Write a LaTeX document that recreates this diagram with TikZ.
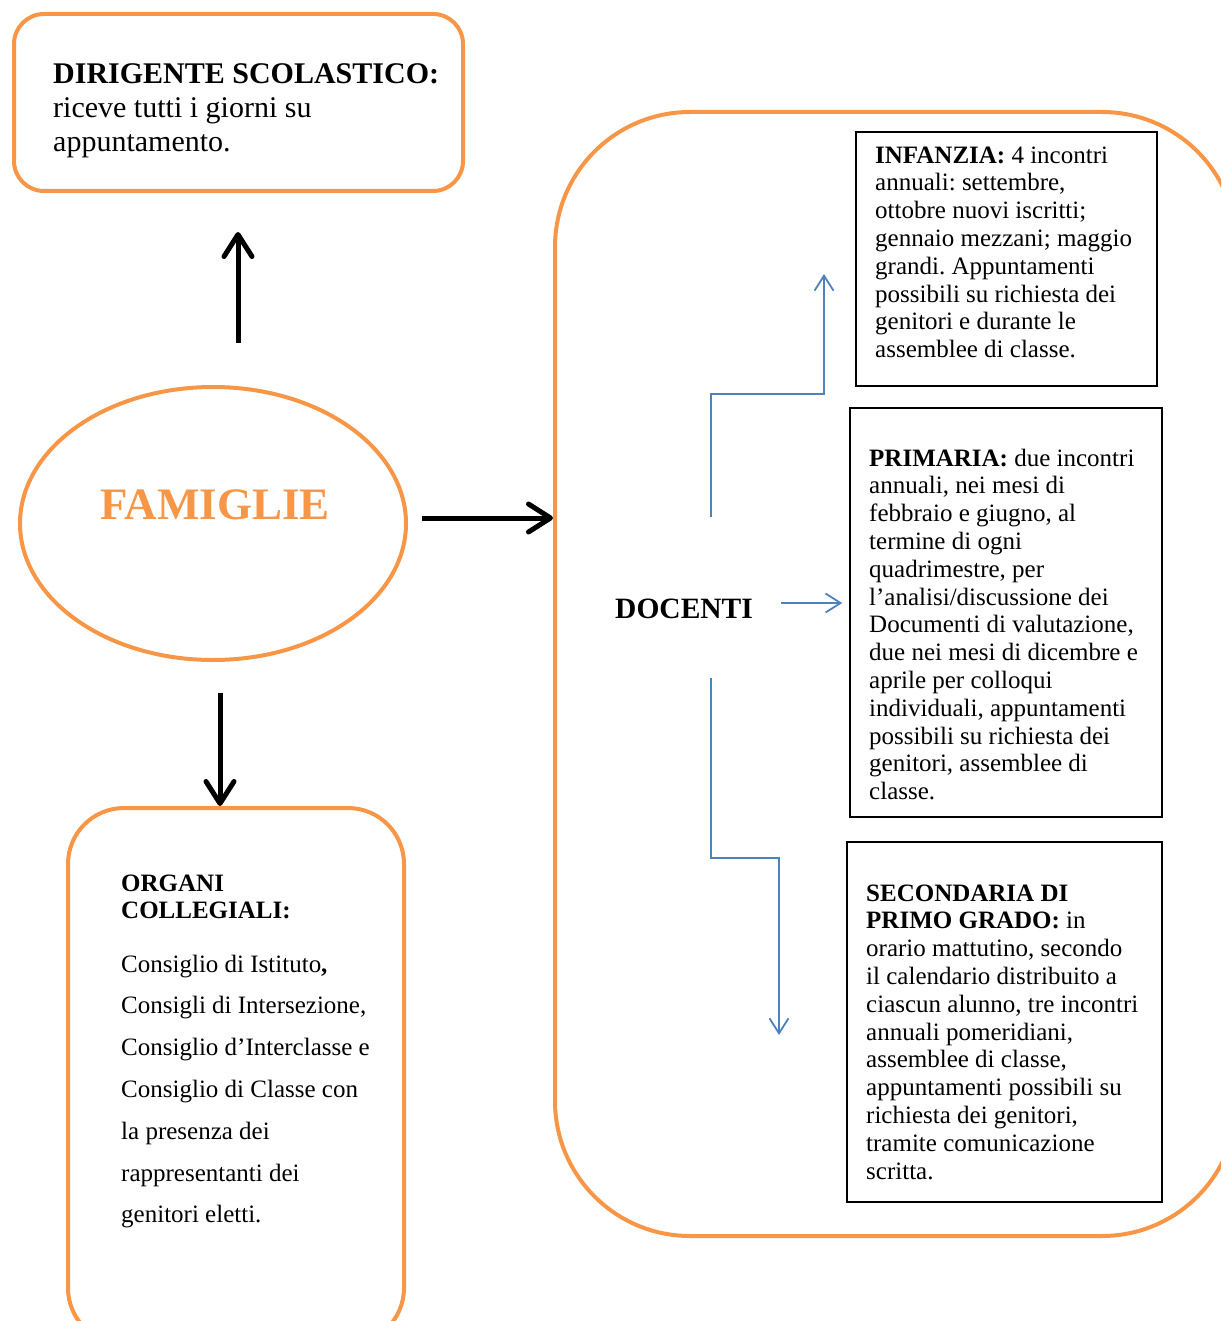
\documentclass[tikz,border=0pt]{standalone}
\usepackage{fontspec}
\setmainfont{Liberation Serif}
\usetikzlibrary{arrows.meta,shapes.geometric,calc}
\definecolor{famorange}{HTML}{F79646}
\definecolor{linkblue}{HTML}{4F81BD}
\newcommand{\txtsize}{\fontsize{25}{27.8}\selectfont}
\frenchspacing
\begin{document}
\begin{tikzpicture}[x=1pt,y=-1pt,
  orangeframe/.style={draw=famorange, line width=4pt, rectangle, inner sep=0pt},
  infobox/.style={draw=black, line width=1.5pt, rectangle, inner sep=0pt},
  bodytext/.style={anchor=north west, inner sep=0pt, align=left, font=\txtsize},
  thickarrow/.style={line width=5pt, -{Straight Barb[length=22pt,width=28pt,round]}},
  thinarrow/.style={draw=linkblue, line width=1.8pt, -{Straight Barb[length=15pt,width=19pt]}},
]
\useasboundingbox (0,0) rectangle (1221,1321);
\clip (0,0) rectangle (1221,1321);

% --- frames -------------------------------------------------------------
\node[orangeframe, rounded corners=30pt, minimum width=449pt, minimum height=177pt] (dir) at (238.5,102.5) {};
\node[orangeframe, ellipse, minimum width=386pt, minimum height=273pt] (fam) at (213,523.5) {};
\node[orangeframe, rounded corners=56pt, minimum width=336pt, minimum height=536pt] (org) at (236,1076) {};
\node[orangeframe, rounded corners=135pt, minimum width=682pt, minimum height=1124pt] (docbox) at (896,674) {};

\node[infobox, minimum width=301pt, minimum height=254pt] (inf) at (1006.5,259) {};
\node[infobox, minimum width=312pt, minimum height=409pt] (prim) at (1006,612.5) {};
\node[infobox, minimum width=315pt, minimum height=360pt] (sec) at (1004.5,1022) {};

% --- texts --------------------------------------------------------------
\node[bodytext, font=\fontsize{30}{34}\selectfont] (dirtext) at (53,59.2)
  {\strut\textbf{DIRIGENTE SCOLASTICO:}\\riceve tutti i giorni su\\appuntamento.};

\node[anchor=base, inner sep=0pt, text=famorange, font=\fontsize{45}{50}\selectfont\bfseries] (famtext) at (215,519) {FAMIGLIE};

\node[anchor=base west, inner sep=0pt, font=\fontsize{29.5}{33}\selectfont\bfseries] (doctext) at (615,618) {DOCENTI};

\node[bodytext, font=\fontsize{25}{27}\selectfont\bfseries] (orgtitle) at (121,872.1)
  {\strut ORGANI\\COLLEGIALI:};
\node[bodytext, font=\fontsize{25}{41.8}\selectfont] (orgtext) at (121,942.7)
  {\strut Consiglio di Istituto\textbf{,}\\Consigli di Intersezione,\\Consiglio d’Interclasse e\\Consiglio di Classe con\\la presenza dei\\rappresentanti dei\\genitori eletti.};

\node[bodytext] (inftext) at (875,143.5)
  {\strut\textbf{INFANZIA:} 4 incontri\\annuali: settembre,\\ottobre nuovi iscritti;\\gennaio mezzani; maggio\\grandi. Appuntamenti\\possibili su richiesta dei\\genitori e durante le\\assemblee di classe.};

\node[bodytext] (primtext) at (869,446.5)
  {\strut\textbf{PRIMARIA:} due incontri\\annuali, nei mesi di\\febbraio e giugno, al\\termine di ogni\\quadrimestre, per\\l’analisi/discussione dei\\Documenti di valutazione,\\due nei mesi di dicembre e\\aprile per colloqui\\individuali, appuntamenti\\possibili su richiesta dei\\genitori, assemblee di\\classe.};

\node[bodytext] (sectext) at (866,881.5)
  {\strut\textbf{SECONDARIA DI}\\\textbf{PRIMO GRADO:} in\\orario mattutino, secondo\\il calendario distribuito a\\ciascun alunno, tre incontri\\annuali pomeridiani,\\assemblee di classe,\\appuntamenti possibili su\\richiesta dei genitori,\\tramite comunicazione\\scritta.};

% --- black connectors from FAMIGLIE --------------------------------------
\coordinate (upfrom) at (238,343);
\coordinate (rightfrom) at (422,518);
\coordinate (downfrom) at (220,693);
\draw[thickarrow, shorten >=39pt] (upfrom) -- (upfrom |- dir.south);
\draw[thickarrow] (rightfrom) -- (rightfrom -| docbox.west);
\draw[thickarrow] (downfrom) -- (downfrom |- org.north);

% --- blue connectors from DOCENTI ----------------------------------------
\coordinate (upstart) at (711,517);
\coordinate (upbend) at (711,394);
\coordinate (upend) at (824,274);
\coordinate (midstart) at (781,603);
\coordinate (downstart) at (711,678);
\coordinate (downbend) at (711,858);
\coordinate (downend) at (779,1035);
\draw[thinarrow] (upstart) -- (upbend) -| (upend);
\draw[thinarrow, shorten >=7pt] (midstart) -- (midstart -| prim.west);
\draw[thinarrow] (downstart) -- (downbend) -| (downend);
\end{tikzpicture}
\end{document}
